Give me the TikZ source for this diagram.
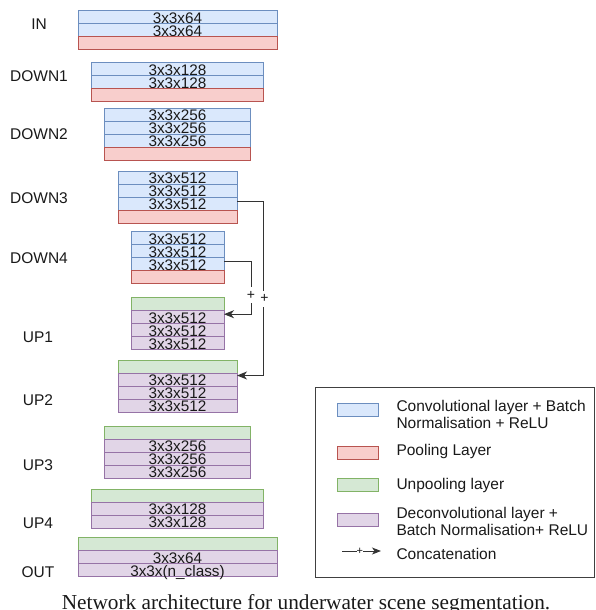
\documentclass[tikz,border=0pt]{standalone}
\usepackage{fontspec}
\setmainfont{Liberation Serif}
\setsansfont{Liberation Sans}
\usetikzlibrary{arrows.meta, positioning, calc}

\definecolor{convfill}{HTML}{DAE8FC}
\definecolor{convline}{HTML}{6C8EBF}
\definecolor{poolfill}{HTML}{F8CECC}
\definecolor{poolline}{HTML}{B85450}
\definecolor{unpoolfill}{HTML}{D5E8D4}
\definecolor{unpoolline}{HTML}{82B366}
\definecolor{deconvfill}{HTML}{E1D5E7}
\definecolor{deconvline}{HTML}{9673A6}

\begin{document}
\begin{tikzpicture}[x=1pt, y=-1pt,
    every node/.style={font=\sffamily\fontsize{15.3}{17}\selectfont, text=black!90},
    layer/.style={line width=1pt, inner sep=0pt, outer sep=0pt, minimum height=13pt, text height=12pt, text depth=0pt},
    conv/.style={layer, draw=convline, fill=convfill},
    pool/.style={layer, draw=poolline, fill=poolfill},
    unpool/.style={layer, draw=unpoolline, fill=unpoolfill},
    deconv/.style={layer, draw=deconvline, fill=deconvfill},
    lvl0/.style={minimum width=199pt},
    lvl1/.style={minimum width=172pt},
    lvl2/.style={minimum width=146pt},
    lvl3/.style={minimum width=119pt},
    lvl4/.style={minimum width=93pt},
    stage/.style={font=\sffamily\fontsize{15.5}{17}\selectfont},
    concat/.style={draw=black!80, line width=1pt, -{Stealth[length=10pt, width=8pt, inset=3pt]}},
    plus/.style={fill=white, inner sep=0pt, minimum width=8pt, minimum height=16pt, font=\sffamily\fontsize{14}{14}\selectfont}
  ]
  \useasboundingbox (0,0) rectangle (596,610);

  % encoder
  \node[stage] (lin) at (39,24) {IN};
  \node[conv, lvl0] (in1) at (177.5,17.5) {3x3x64};
  \node[conv, lvl0, below=0pt of in1] (in2) {3x3x64};
  \node[pool, lvl0, below=0pt of in2] (inpool) {};

  \node[stage] (ldn1) at (39,76) {DOWN1};
  \node[conv, lvl1] (dn1a) at (177.5,69.2) {3x3x128};
  \node[conv, lvl1, below=0pt of dn1a] (dn1b) {3x3x128};
  \node[pool, lvl1, below=0pt of dn1b] (dn1pool) {};

  \node[stage] (ldn2) at (39,134) {DOWN2};
  \node[conv, lvl2] (dn2a) at (177.5,114.5) {3x3x256};
  \node[conv, lvl2, below=0pt of dn2a] (dn2b) {3x3x256};
  \node[conv, lvl2, below=0pt of dn2b] (dn2c) {3x3x256};
  \node[pool, lvl2, below=0pt of dn2c] (dn2pool) {};

  \node[stage] (ldn3) at (39,198) {DOWN3};
  \node[conv, lvl3] (dn3a) at (177.5,177.5) {3x3x512};
  \node[conv, lvl3, below=0pt of dn3a] (dn3b) {3x3x512};
  \node[conv, lvl3, below=0pt of dn3b] (dn3c) {3x3x512};
  \node[pool, lvl3, below=0pt of dn3c] (dn3pool) {};

  \node[stage] (ldn4) at (39,258) {DOWN4};
  \node[conv, lvl4] (dn4a) at (177.5,238.2) {3x3x512};
  \node[conv, lvl4, below=0pt of dn4a] (dn4b) {3x3x512};
  \node[conv, lvl4, below=0pt of dn4b] (dn4c) {3x3x512};
  \node[pool, lvl4, below=0pt of dn4c] (dn4pool) {};

  % decoder
  \node[stage] (lup1) at (38,337) {UP1};
  \node[unpool, lvl4] (up1un) at (177.5,304.2) {};
  \node[deconv, lvl4, below=0pt of up1un] (up1a) {3x3x512};
  \node[deconv, lvl4, below=0pt of up1a] (up1b) {3x3x512};
  \node[deconv, lvl4, below=0pt of up1b] (up1c) {3x3x512};

  \node[stage] (lup2) at (38,400) {UP2};
  \node[unpool, lvl3] (up2un) at (177.5,366.5) {};
  \node[deconv, lvl3, below=0pt of up2un] (up2a) {3x3x512};
  \node[deconv, lvl3, below=0pt of up2a] (up2b) {3x3x512};
  \node[deconv, lvl3, below=0pt of up2b] (up2c) {3x3x512};

  \node[stage] (lup3) at (38,465) {UP3};
  \node[unpool, lvl2] (up3un) at (177.5,432.5) {};
  \node[deconv, lvl2, below=0pt of up3un] (up3a) {3x3x256};
  \node[deconv, lvl2, below=0pt of up3a] (up3b) {3x3x256};
  \node[deconv, lvl2, below=0pt of up3b] (up3c) {3x3x256};

  \node[stage] (lup4) at (38,523) {UP4};
  \node[unpool, lvl1] (up4un) at (177.5,495.5) {};
  \node[deconv, lvl1, below=0pt of up4un] (up4a) {3x3x128};
  \node[deconv, lvl1, below=0pt of up4a] (up4b) {3x3x128};

  \node[stage] (lout) at (38,572) {OUT};
  \node[unpool, lvl0] (outun) at (177.5,544.2) {};
  \node[deconv, lvl0, below=0pt of outun] (outa) {3x3x64};
  \node[deconv, lvl0, below=0pt of outa] (outb) {3x3x(n\_class)};

  % skip connections
  \draw[concat] ([yshift=2.5pt]dn3c.east) -- ++(26,0) |- node[plus, pos=0.28, xshift=1.5pt] {+} ([yshift=4pt]up2a.east);
  \draw[concat] ([yshift=3pt]dn4c.east) -- ++(27,0) |- node[plus, pos=0.32] {+} ([yshift=3pt]up1a.east);

  % legend
  \draw[black!75, line width=1pt] (315,387) rectangle (594,577);
  \node[conv, minimum width=41pt] (keyconv) at (357.5,409.5) {};
  \node[pool, minimum width=41pt] (keypool) at (357.5,452.5) {};
  \node[unpool, minimum width=41pt] (keyunpool) at (357.5,484.5) {};
  \node[deconv, minimum width=41pt] (keydeconv) at (357.5,520) {};
  \coordinate (keyfrom) at (342,551);
  \coordinate (keyto) at (381,551);
  \draw[concat, -{Stealth[length=9pt, width=7pt, inset=2.5pt]}] (keyfrom) -- node[plus, pos=0.46, minimum height=8pt, minimum width=6pt, font=\sffamily\fontsize{11}{11}\selectfont] {+} (keyto);

  \node[stage, anchor=west, align=left] (txtconv) at (393,414.5) {Convolutional layer + Batch\\Normalisation + ReLU};
  \node[stage, anchor=west] (txtpool) at (393,451) {Pooling Layer};
  \node[stage, anchor=west] (txtunpool) at (393,485) {Unpooling layer};
  \node[stage, anchor=west, align=left] (txtdeconv) at (393,521) {Deconvolutional layer +\\Batch Normalisation+ ReLU};
  \node[stage, anchor=west] (txtconcat) at (393,554) {Concatenation};

  % caption
  \node[font=\rmfamily\fontsize{21.3}{24}\selectfont, anchor=base] (caption) at (306,609.5) {Network architecture for underwater scene segmentation.};
\end{tikzpicture}
\end{document}
